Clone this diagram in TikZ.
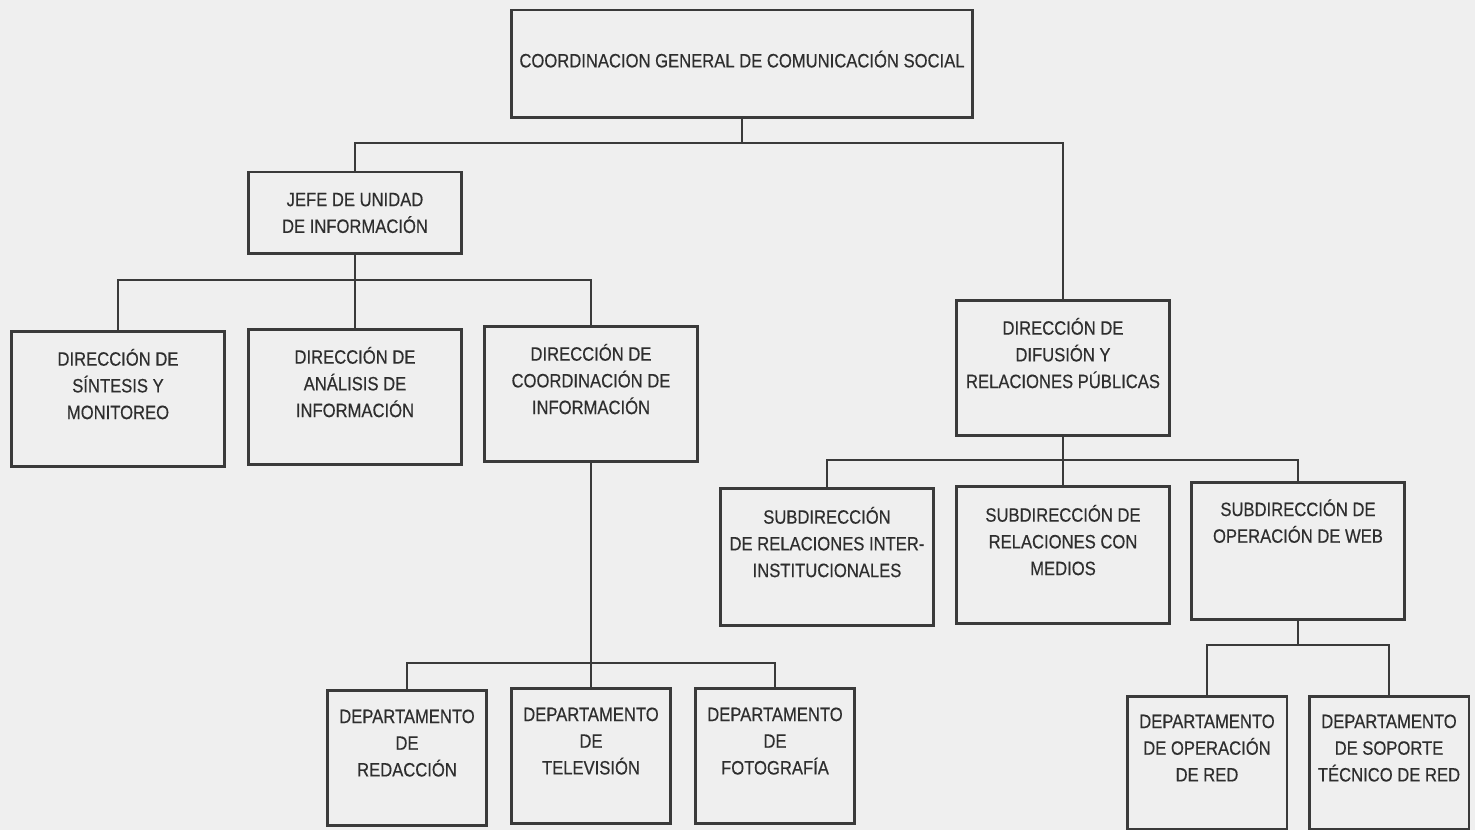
\documentclass[tikz,border=0pt]{standalone}
\usepackage{fontspec}
\setmainfont{Liberation Sans}[FakeStretch=0.86, FakeBold=0.4]
\usepackage{tikz}
\definecolor{paper}{HTML}{EFEFEF}
\definecolor{ink}{HTML}{3A3A3A}
\definecolor{letter}{HTML}{2E2E2E}
\newcommand{\orgFont}[0]{\fontsize{11pt}{15.2pt}\selectfont}

\begin{document}
\begin{tikzpicture}[x=0.02cm, y=-0.02cm]
  \tikzset{unit/.style={draw=ink, line width=1.7pt, fill=paper, text=letter, align=center,
                        font=\orgFont, inner sep=2pt},
           tallunit/.style={unit, minimum width=4.28cm, minimum height=2.72cm, text depth=0.6cm},
           deptunit/.style={unit, minimum width=3.2cm, minimum height=2.72cm, text depth=0.6cm},
           link/.style={draw=ink, line width=0.8pt}}
  \fill[paper] (0,0) rectangle (1475,830);
  \useasboundingbox (0,0) rectangle (1475,830);
  % top level
  \node[unit, minimum width=9.24cm, minimum height=2.16cm, text depth=0.2cm] (coord) at (742,64)
    {COORDINACION GENERAL DE COMUNICACIÓN SOCIAL};
  \node[unit, minimum width=4.28cm, minimum height=1.64cm] (jefe) at (355,213)
    {JEFE DE UNIDAD\\DE INFORMACIÓN};
  \node[tallunit] (difusion) at (1063,368)
    {DIRECCIÓN DE\\DIFUSIÓN Y\\RELACIONES PÚBLICAS};
  % direcciones
  \node[tallunit] (sintesis) at (118,399) {DIRECCIÓN DE\\SÍNTESIS Y\\MONITOREO};
  \node[tallunit] (analisis) at (355,397) {DIRECCIÓN DE\\ANÁLISIS DE\\INFORMACIÓN};
  \node[tallunit] (coordinf) at (591,394) {DIRECCIÓN DE\\COORDINACIÓN DE\\INFORMACIÓN};
  % departamentos
  \node[deptunit] (redaccion) at (407,758) {DEPARTAMENTO\\DE\\REDACCIÓN};
  \node[deptunit] (television) at (591,756) {DEPARTAMENTO\\DE\\TELEVISIÓN};
  \node[deptunit] (fotografia) at (775,756) {DEPARTAMENTO\\DE\\FOTOGRAFÍA};
  % subdirecciones
  \node[tallunit, minimum height=2.76cm] (interinst) at (827,557)
    {SUBDIRECCIÓN\\DE RELACIONES INTER-\\INSTITUCIONALES};
  \node[tallunit, minimum height=2.76cm] (medios) at (1063,555)
    {SUBDIRECCIÓN DE\\RELACIONES CON\\MEDIOS};
  \node[tallunit, minimum height=2.76cm, text depth=1.2cm] (web) at (1298,551)
    {SUBDIRECCIÓN DE\\OPERACIÓN DE WEB};
  \node[deptunit, minimum height=2.66cm] (red) at (1207,763)
    {DEPARTAMENTO\\DE OPERACIÓN\\DE RED};
  \node[deptunit, minimum height=2.66cm] (soporte) at (1389,763)
    {DEPARTAMENTO\\DE SOPORTE\\TÉCNICO DE RED};
  % connectors
  \coordinate (busA) at (742,143);
  \coordinate (busB) at (355,280);
  \coordinate (busC) at (591,663);
  \coordinate (busD) at (1063,460);
  \coordinate (busE) at (1298,645);
  \draw[link] (coord.south) -- (busA) -| (jefe.north);
  \draw[link] (busA) -| (difusion.north);
  \draw[link] (jefe.south) -- (busB) -| (sintesis.north);
  \draw[link] (busB) -- (analisis.north);
  \draw[link] (busB) -| (coordinf.north);
  \draw[link] (coordinf.south) -- (busC) -| (redaccion.north);
  \draw[link] (busC) -- (television.north);
  \draw[link] (busC) -| (fotografia.north);
  \draw[link] (difusion.south) -- (busD) -| (interinst.north);
  \draw[link] (busD) -- (medios.north);
  \draw[link] (busD) -| (web.north);
  \draw[link] (web.south) -- (busE) -| (red.north);
  \draw[link] (busE) -| (soporte.north);
\end{tikzpicture}
\end{document}
